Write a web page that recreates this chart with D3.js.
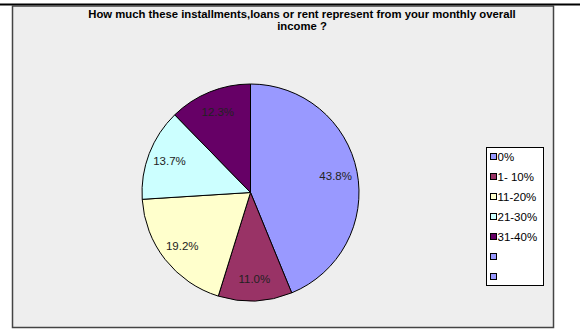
<!DOCTYPE html>
<html>
<head>
<meta charset="utf-8">
<script src="https://cdn.jsdelivr.net/npm/d3@7"></script>
<style>
  body { margin: 0; background: #fff; }
  svg { display: block; font-family: Arial, "Liberation Sans", sans-serif; }
</style>
</head>
<body>
<div id="chart"></div>
<script>
// data
const categories = ["0%", "1- 10%", "11-20%", "21-30%", "31-40%", "", ""];
const values = [43.8, 11.0, 19.2, 13.7, 12.3];
const colors = ["#9999ff", "#993366", "#ffffcc", "#ccffff", "#660066", "#9999ff", "#9999ff"];
const titleLines = ["How much these installments,loans or rent represent from your monthly overall", "income ?"];

const width = 580, height = 329;
const cx = 250.5, cy = 192.5, radius = 108.5;

const svg = d3.select("#chart").append("svg")
  .attr("width", width)
  .attr("height", height);

// top rule
svg.append("line")
  .attr("x1", 0).attr("x2", width)
  .attr("y1", 4.5).attr("y2", 4.5)
  .attr("stroke", "#000")
  .attr("stroke-width", 2);

// chart area
svg.append("rect")
  .attr("x", 12.5).attr("y", 6)
  .attr("width", 541).attr("height", 321.5)
  .attr("fill", "#eeeeee")
  .attr("stroke", "#444")
  .attr("stroke-width", 1.5);

// title
svg.append("text")
  .attr("x", 302)
  .attr("y", 18)
  .attr("text-anchor", "middle")
  .attr("font-size", 11.3)
  .attr("font-weight", "bold")
  .attr("fill", "#000")
  .selectAll("tspan")
  .data(titleLines)
  .enter()
  .append("tspan")
  .attr("x", 302)
  .attr("dy", (d, i) => i ? 12 : 0)
  .text(d => d);

// pie
const pie = d3.pie().sort(null).value(d => d);
const arc = d3.arc().innerRadius(0).outerRadius(radius);
const labelArc = d3.arc().innerRadius(radius * 0.8).outerRadius(radius * 0.8);

const g = svg.append("g")
  .attr("transform", "translate(" + cx + "," + cy + ")");

const slices = g.selectAll("g.slice")
  .data(pie(values))
  .enter()
  .append("g")
  .attr("class", "slice");

slices.append("path")
  .attr("d", arc)
  .attr("fill", (d, i) => colors[i])
  .attr("stroke", "#000")
  .attr("stroke-width", 1);

slices.append("text")
  .attr("transform", d => "translate(" + labelArc.centroid(d) + ")")
  .attr("text-anchor", "middle")
  .attr("dy", "0.35em")
  .attr("font-size", 11.5)
  .attr("fill", "#222")
  .text(d => d.data.toFixed(1) + "%");

// legend
const legend = svg.append("g")
  .attr("transform", "translate(486.5,147.5)");

legend.append("rect")
  .attr("width", 57)
  .attr("height", 138)
  .attr("fill", "#fff")
  .attr("stroke", "#000")
  .attr("stroke-width", 1);

const rowY = d3.scaleLinear().domain([0, 1]).range([9, 29]);

const items = legend.selectAll("g.item")
  .data(categories)
  .enter()
  .append("g")
  .attr("class", "item")
  .attr("transform", (d, i) => "translate(0," + rowY(i) + ")");

items.append("rect")
  .attr("x", 4).attr("y", -3)
  .attr("width", 6).attr("height", 6)
  .attr("fill", (d, i) => colors[i])
  .attr("stroke", "#000")
  .attr("stroke-width", 1);

items.append("text")
  .attr("x", 11)
  .attr("dy", "0.35em")
  .attr("font-size", 11.5)
  .attr("fill", "#000")
  .text(d => d);
</script>
</body>
</html>
